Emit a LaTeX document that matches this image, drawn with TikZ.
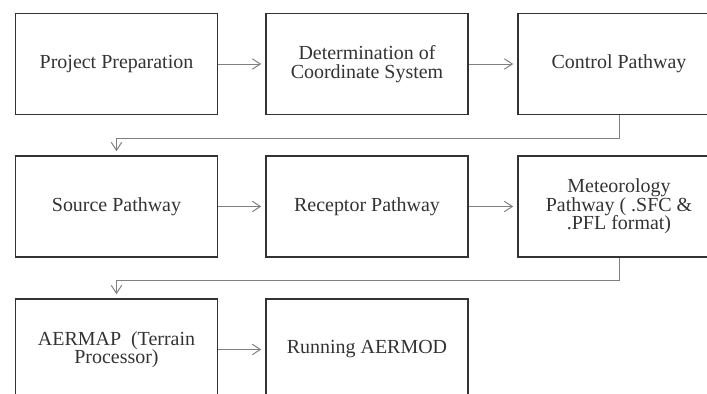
\documentclass[tikz,border=0pt]{standalone}
\usepackage{fontspec}
\setmainfont{Liberation Serif}
\usetikzlibrary{arrows.meta}
\begin{document}
\begin{tikzpicture}[
    stage/.style={draw=black!80, line width=1.1pt, minimum width=5.05cm, minimum height=2.525cm,
      inner sep=0pt, align=center, text=black!80, font=\fontsize{14.2}{13.2}\selectfont},
    link/.style={draw=black!50, line width=0.7pt, -{Straight Barb[length=2mm, width=2.6mm]}}
  ]
    \useasboundingbox (0, 0) rectangle (17.675, 9.85);
    \clip (0, 0) rectangle (17.675, 9.85);
    % first row
    \node[stage] (prep) at (2.9125, 8.25) {Project Preparation};
    \node[stage] (coord) at (9.175, 8.25) {Determination of\\Coordinate System};
    \node[stage] (ctrl) at (15.475, 8.25) {Control Pathway};
    % second row
    \node[stage] (src) at (2.9125, 4.6875) {Source Pathway};
    \node[stage] (recep) at (9.175, 4.6875) {Receptor Pathway};
    \node[stage] (met) at (15.475, 4.6875) {Meteorology\\Pathway ( .SFC \&\\.PFL format)};
    % third row
    \node[stage] (aermap) at (2.9125, 1.1125) {AERMAP \ (Terrain\\Processor)};
    \node[stage] (run) at (9.175, 1.1125) {Running AERMOD};
    % connectors
    \draw[link] (prep.east) -- ([xshift=-1mm]coord.west);
    \draw[link] (coord.east) -- ([xshift=-1mm]ctrl.west);
    \draw[link] (ctrl.south) -- ++(0, -0.575) -| ([yshift=1mm]src.north);
    \draw[link] (src.east) -- ([xshift=-1mm]recep.west);
    \draw[link] (recep.east) -- ([xshift=-1mm]met.west);
    \draw[link] (met.south) -- ++(0, -0.575) -| ([yshift=1mm]aermap.north);
    \draw[link] (aermap.east) -- ([xshift=-1mm]run.west);
  \end{tikzpicture}
\end{document}
